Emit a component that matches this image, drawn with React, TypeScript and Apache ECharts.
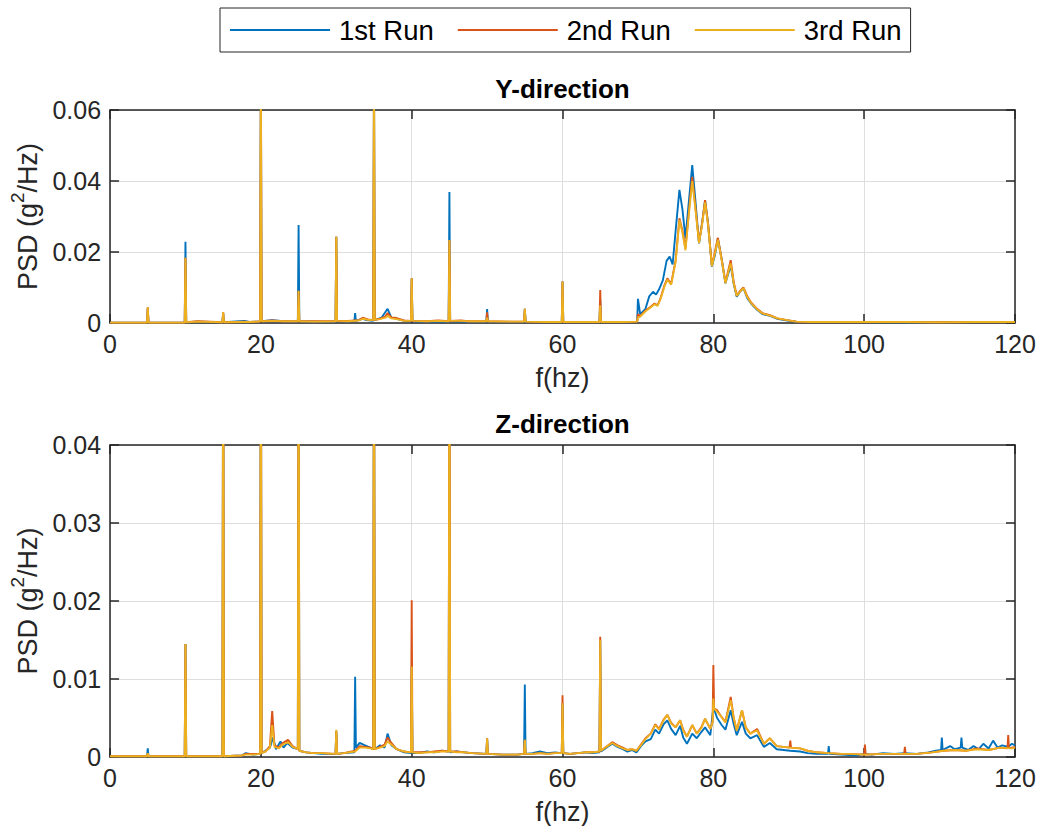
import React, { useEffect, useRef } from "react";
import * as echarts from "echarts";

const FONT = '"Liberation Sans", Arial, Helvetica, sans-serif';
const TXT = "#262626";
const COLORS = ["#0072BD", "#D95319", "#EDB120"];
const RUN_NAMES = ["1st Run", "2nd Run", "3rd Run"];

const xTicks = { min: 0, max: 120, interval: 20 };
const yTopTicks = { min: 0, max: 0.06, interval: 0.02 };
const yBotTicks = { min: 0, max: 0.04, interval: 0.01 };

// ---------- Y-direction ----------
const yRun1: number[][] = [
  [0, 0.0001], [4.9, 0.0001], [5.0, 0.0042], [5.1, 0.0001], [9.9, 0.0001], [10.0, 0.0229], [10.1, 0.0002],
  [11.6, 0.0004], [14.9, 0.0002], [15.0, 0.0028], [15.1, 0.0002], [17.8, 0.0006], [18.5, 0.0003], [19.9, 0.0004],
  [20.0, 0.07], [20.1, 0.0005], [21.5, 0.0008], [23, 0.0005], [24.9, 0.0005], [25.0, 0.0276], [25.1, 0.0005],
  [27, 0.0004], [29.9, 0.0004], [30.0, 0.0243], [30.1, 0.0006], [31.5, 0.0005], [32.4, 0.0006], [32.5, 0.0028],
  [32.6, 0.0006], [33.5, 0.0012], [34, 0.0008], [34.9, 0.0006], [35.0, 0.07], [35.1, 0.0008], [36, 0.0015],
  [36.8, 0.004], [37.3, 0.0015], [38, 0.0012], [39, 0.0006], [39.9, 0.0005], [40.0, 0.0126], [40.1, 0.0005],
  [42, 0.0004], [44.9, 0.0004], [45.0, 0.0369], [45.1, 0.0005], [47, 0.0004], [49.9, 0.0004], [50.0, 0.0039],
  [50.1, 0.0004], [53, 0.0003], [54.9, 0.0003], [55.0, 0.004], [55.1, 0.0003], [58, 0.0003], [59.9, 0.0003],
  [60.0, 0.0117], [60.1, 0.0003], [63, 0.0003], [64.9, 0.0003], [65.0, 0.0065], [65.1, 0.0003], [68, 0.0003],
  [69.9, 0.0004], [70.0, 0.0068], [70.3, 0.0025], [71, 0.004], [71.5, 0.0075], [72, 0.0088], [72.4, 0.008],
  [72.8, 0.0095], [73.3, 0.012], [73.8, 0.0175], [74.2, 0.0187], [74.6, 0.0165], [75.0, 0.026], [75.5, 0.0375],
  [75.9, 0.032], [76.3, 0.0239], [76.7, 0.033], [77.2, 0.0445], [77.6, 0.035], [78.1, 0.0224], [78.5, 0.028],
  [78.9, 0.0346], [79.3, 0.028], [79.8, 0.0159], [80.2, 0.019], [80.6, 0.0238], [81.1, 0.018], [81.6, 0.0112],
  [82.0, 0.014], [82.3, 0.0163], [82.7, 0.011], [83.1, 0.0074], [83.6, 0.009], [84.0, 0.0098], [84.5, 0.007],
  [85.0, 0.0055], [85.8, 0.0037], [86.5, 0.0025], [87.5, 0.002], [88.5, 0.0012], [89.8, 0.0007], [91, 0.0004],
  [93, 0.0003], [100, 0.0003], [105, 0.0002], [110, 0.0002], [115, 0.0003], [120, 0.0003],
];
const yRun2: number[][] = [
  [0, 0.0001], [4.9, 0.0001], [5.0, 0.0044], [5.1, 0.0001], [9.9, 0.0001], [10.0, 0.0184], [10.1, 0.0002],
  [11.6, 0.0005], [14.9, 0.0002], [15.0, 0.003], [15.1, 0.0002], [17.8, 0.0004], [18.5, 0.0003], [19.9, 0.0004],
  [20.0, 0.07], [20.1, 0.0005], [21.5, 0.0007], [23, 0.0005], [24.9, 0.0005], [25.0, 0.0091], [25.1, 0.0005],
  [27, 0.0005], [29.9, 0.0005], [30.0, 0.0243], [30.1, 0.0006], [31.5, 0.0006], [33.0, 0.0008], [33.5, 0.0015],
  [34.2, 0.001], [34.9, 0.0008], [35.0, 0.07], [35.1, 0.0009], [35.8, 0.0012], [36.5, 0.0018], [36.8, 0.0028],
  [37.3, 0.0016], [38, 0.0014], [39, 0.0007], [39.9, 0.0006], [40.0, 0.0126], [40.1, 0.0006], [42, 0.0005],
  [43.5, 0.0007], [44.9, 0.0005], [45.0, 0.0234], [45.1, 0.0006], [46.5, 0.0007], [47.5, 0.0005], [49.9, 0.0005],
  [50.0, 0.003], [50.1, 0.0005], [53, 0.0004], [54.9, 0.0004], [55.0, 0.004], [55.1, 0.0004], [58, 0.0003],
  [59.9, 0.0003], [60.0, 0.0117], [60.1, 0.0003], [63, 0.0003], [64.9, 0.0003], [65.0, 0.0093], [65.1, 0.0003],
  [68, 0.0003], [69.9, 0.0004], [70.0, 0.0025], [70.3, 0.002], [71, 0.0035], [71.7, 0.0046], [72.2, 0.0055],
  [72.6, 0.005], [73.0, 0.007], [73.5, 0.0105], [73.9, 0.0126], [74.4, 0.011], [75.0, 0.0177], [75.5, 0.0295],
  [75.9, 0.026], [76.3, 0.021], [76.7, 0.03], [77.2, 0.0412], [77.6, 0.033], [78.1, 0.0228], [78.5, 0.028],
  [78.9, 0.0346], [79.3, 0.028], [79.8, 0.0162], [80.2, 0.02], [80.6, 0.024], [81.1, 0.018], [81.6, 0.0115],
  [82.0, 0.015], [82.3, 0.0177], [82.7, 0.0115], [83.1, 0.0078], [83.6, 0.0092], [84.0, 0.01], [84.5, 0.0075],
  [85.0, 0.0058], [85.8, 0.004], [86.5, 0.0028], [87.5, 0.0022], [88.5, 0.0013], [89.8, 0.0008], [91, 0.0004],
  [93, 0.0003], [100, 0.0003], [105, 0.0003], [110, 0.0002], [115, 0.0003], [120, 0.0003],
];
const yRun3: number[][] = [
  [0, 0.0001], [4.9, 0.0001], [5.0, 0.0044], [5.1, 0.0001], [9.9, 0.0001], [10.0, 0.0184], [10.1, 0.0002],
  [11.6, 0.0004], [14.9, 0.0002], [15.0, 0.003], [15.1, 0.0002], [17.8, 0.0003], [18.5, 0.0003], [19.9, 0.0004],
  [20.0, 0.07], [20.1, 0.0005], [21.5, 0.0006], [23, 0.0005], [24.9, 0.0005], [25.0, 0.0091], [25.1, 0.0005],
  [27, 0.0004], [29.9, 0.0005], [30.0, 0.0243], [30.1, 0.0006], [31.5, 0.0005], [33.0, 0.0007], [33.5, 0.0012],
  [34.2, 0.0009], [34.9, 0.0008], [35.0, 0.07], [35.1, 0.0009], [35.8, 0.0011], [36.5, 0.0015], [36.8, 0.002],
  [37.3, 0.0013], [38, 0.0011], [39, 0.0006], [39.9, 0.0006], [40.0, 0.0126], [40.1, 0.0006], [42, 0.0005],
  [43.5, 0.0006], [44.9, 0.0005], [45.0, 0.0234], [45.1, 0.0006], [46.5, 0.0006], [47.5, 0.0005], [49.9, 0.0005],
  [50.0, 0.0015], [50.1, 0.0005], [53, 0.0004], [54.9, 0.0004], [55.0, 0.004], [55.1, 0.0004], [58, 0.0003],
  [59.9, 0.0003], [60.0, 0.0117], [60.1, 0.0003], [63, 0.0003], [64.9, 0.0003], [65.0, 0.005], [65.1, 0.0003],
  [68, 0.0003], [69.9, 0.0004], [70.0, 0.0015], [70.3, 0.0018], [71, 0.0033], [71.7, 0.0044], [72.2, 0.0053],
  [72.6, 0.0048], [73.0, 0.0068], [73.5, 0.0102], [73.9, 0.0122], [74.4, 0.0108], [75.0, 0.0172], [75.5, 0.029],
  [75.9, 0.0255], [76.3, 0.0205], [76.7, 0.0295], [77.2, 0.040], [77.6, 0.0325], [78.1, 0.0225], [78.5, 0.0275],
  [78.9, 0.034], [79.3, 0.0275], [79.8, 0.016], [80.2, 0.0195], [80.6, 0.0235], [81.1, 0.0178], [81.6, 0.0112],
  [82.0, 0.0145], [82.3, 0.0168], [82.7, 0.0112], [83.1, 0.0076], [83.6, 0.009], [84.0, 0.0098], [84.5, 0.0073],
  [85.0, 0.0056], [85.8, 0.0039], [86.5, 0.0027], [87.5, 0.0021], [88.5, 0.0013], [89.8, 0.0008], [91, 0.0004],
  [93, 0.0003], [100, 0.0003], [105, 0.0003], [110, 0.0002], [115, 0.0003], [120, 0.0003],
];

// ---------- Z-direction ----------
const zRun1: number[][] = [
  [0, 0.0001], [4.9, 0.0001], [5.0, 0.0011], [5.1, 0.0001], [9.9, 0.0001], [10.0, 0.0145], [10.1, 0.0001],
  [14.9, 0.0001], [15.0, 0.06], [15.1, 0.0001], [17.5, 0.0002], [18, 0.0005], [19, 0.0003], [19.9, 0.0004],
  [20.0, 0.06], [20.1, 0.0005], [20.6, 0.0008], [21.2, 0.0012], [21.6, 0.0025], [22.0, 0.001], [22.6, 0.002],
  [23.0, 0.0012], [23.5, 0.0018], [24.2, 0.0012], [24.9, 0.001], [25.0, 0.06], [25.1, 0.0008], [26, 0.0006],
  [27, 0.0005], [28, 0.0004], [29.9, 0.0004], [30.0, 0.0033], [30.1, 0.0004], [31, 0.0005], [32.4, 0.0006],
  [32.5, 0.0103], [32.6, 0.0012], [33.1, 0.0018], [33.8, 0.0015], [34.5, 0.0012], [34.9, 0.001], [35.0, 0.06],
  [35.1, 0.001], [35.8, 0.0015], [36.4, 0.0012], [36.8, 0.003], [37.3, 0.0015], [38, 0.001], [39, 0.0006],
  [39.9, 0.0005], [40.0, 0.0117], [40.1, 0.0005], [41, 0.0005], [42, 0.0007], [43, 0.0006], [44, 0.0008],
  [44.9, 0.0007], [45.0, 0.06], [45.1, 0.0006], [46, 0.0007], [47, 0.0006], [48, 0.0005], [49.9, 0.0004],
  [50.0, 0.0024], [50.1, 0.0004], [52, 0.0003], [54, 0.0003], [54.9, 0.0004], [55.0, 0.0093], [55.1, 0.0004],
  [56, 0.0005], [57, 0.0007], [58, 0.0005], [59, 0.0006], [59.9, 0.0005], [60.0, 0.0069], [60.1, 0.0005],
  [61, 0.0004], [62, 0.0005], [63, 0.0006], [64, 0.0005], [64.9, 0.0006], [65.0, 0.015], [65.1, 0.0007],
  [65.8, 0.0012], [66.6, 0.0017], [67.3, 0.0013], [68, 0.001], [68.6, 0.0007], [69.2, 0.0009], [69.8, 0.0006],
  [70.4, 0.0014], [71, 0.002], [71.7, 0.0023], [72.3, 0.0035], [72.8, 0.003], [73.4, 0.0042], [73.9, 0.0047],
  [74.4, 0.0036], [75.0, 0.0028], [75.6, 0.004], [76.0, 0.0025], [76.5, 0.0017], [77.2, 0.003], [77.8, 0.0024],
  [78.4, 0.0032], [78.9, 0.0038], [79.6, 0.0028], [80.0, 0.0064], [80.5, 0.005], [81.1, 0.0041], [81.6, 0.0035],
  [82.3, 0.006], [82.7, 0.0042], [83.1, 0.0028], [83.8, 0.0045], [84.3, 0.003], [84.9, 0.0024], [85.8, 0.0028],
  [86.7, 0.0013], [87.5, 0.0018], [88.4, 0.001], [89.3, 0.0009], [90.2, 0.0008], [91.5, 0.0007], [92.5, 0.0005],
  [93.7, 0.0004], [95.2, 0.0004], [95.3, 0.0014], [95.4, 0.0004], [97, 0.0003], [99, 0.0002], [100.1, 0.0004],
  [101, 0.0003], [102.5, 0.0005], [104, 0.0004], [105.4, 0.0005], [107, 0.0004], [108.5, 0.0006], [109.5, 0.0008],
  [110.2, 0.0009], [110.3, 0.0025], [110.4, 0.0009], [111.4, 0.0014], [112, 0.001], [112.8, 0.0012], [112.9, 0.0025],
  [113.0, 0.0012], [113.8, 0.0009], [114.5, 0.0014], [115.2, 0.001], [115.8, 0.0017], [116.5, 0.0011],
  [117.1, 0.0021], [117.7, 0.0012], [118.3, 0.0015], [119.1, 0.0013], [119.6, 0.0017], [120, 0.0015],
];
const zRun2: number[][] = [
  [0, 0.0001], [4.9, 0.0001], [5.0, 0.0005], [5.1, 0.0001], [9.9, 0.0001], [10.0, 0.0145], [10.1, 0.0001],
  [14.9, 0.0001], [15.0, 0.06], [15.1, 0.0001], [17.5, 0.0002], [18, 0.0004], [19, 0.0004], [19.9, 0.0004],
  [20.0, 0.06], [20.1, 0.0006], [20.6, 0.0007], [21.2, 0.0014], [21.5, 0.0059], [21.8, 0.0015], [22.4, 0.0012],
  [22.9, 0.0018], [23.6, 0.0022], [24.2, 0.0014], [24.9, 0.001], [25.0, 0.06], [25.1, 0.0008], [26, 0.0006],
  [27, 0.0005], [28, 0.0005], [29.9, 0.0004], [30.0, 0.0033], [30.1, 0.0004], [31, 0.0005], [32.5, 0.0008],
  [33.1, 0.0014], [33.8, 0.0013], [34.5, 0.0012], [34.9, 0.001], [35.0, 0.06], [35.1, 0.001], [35.8, 0.0013],
  [36.4, 0.0016], [36.8, 0.0025], [37.3, 0.0018], [38, 0.001], [39, 0.0007], [39.9, 0.0006], [40.0, 0.0201],
  [40.1, 0.0006], [41, 0.0006], [42, 0.0006], [43, 0.0007], [44, 0.0008], [44.9, 0.0007], [45.0, 0.06],
  [45.1, 0.0007], [46, 0.0007], [47, 0.0006], [48, 0.0005], [49.9, 0.0004], [50.0, 0.0024], [50.1, 0.0004],
  [52, 0.0003], [54, 0.0003], [54.9, 0.0004], [55.0, 0.0022], [55.1, 0.0004], [56, 0.0004], [57, 0.0005],
  [58, 0.0004], [59, 0.0005], [59.9, 0.0005], [60.0, 0.0079], [60.1, 0.0005], [61, 0.0004], [62, 0.0005],
  [63, 0.0006], [64, 0.0006], [64.9, 0.0007], [65.0, 0.0154], [65.1, 0.0008], [65.8, 0.0013], [66.6, 0.0019],
  [67.3, 0.0015], [68, 0.0012], [68.6, 0.0009], [69.2, 0.001], [69.8, 0.0008], [70.4, 0.0016], [71, 0.0024],
  [71.7, 0.003], [72.3, 0.0042], [72.8, 0.0036], [73.4, 0.0048], [73.9, 0.0054], [74.4, 0.0044], [75.0, 0.0038],
  [75.6, 0.0047], [76.0, 0.0035], [76.5, 0.0026], [77.2, 0.0041], [77.8, 0.003], [78.4, 0.0038], [78.9, 0.0049],
  [79.6, 0.0036], [79.9, 0.0045], [80.0, 0.0118], [80.1, 0.0062], [80.5, 0.006], [81.1, 0.0051], [81.6, 0.0045],
  [82.3, 0.0077], [82.7, 0.005], [83.1, 0.0034], [83.8, 0.006], [84.3, 0.0038], [84.9, 0.003], [85.8, 0.0036],
  [86.7, 0.0017], [87.5, 0.0024], [88.4, 0.0014], [89.3, 0.0013], [90.1, 0.0012], [90.2, 0.0021], [90.3, 0.0012],
  [91.5, 0.0011], [92.5, 0.0008], [93.7, 0.0006], [95.3, 0.0005], [97, 0.0004], [98.1, 0.0004], [100.0, 0.0003],
  [100.1, 0.0016], [100.2, 0.0003], [102.5, 0.0004], [105.3, 0.0004], [105.4, 0.0013], [105.5, 0.0004],
  [107, 0.0004], [109, 0.0006], [110.5, 0.0008], [112, 0.0009], [113.5, 0.0008], [115, 0.0011], [116.5, 0.0009],
  [118, 0.0012], [119.0, 0.0011], [119.1, 0.0028], [119.2, 0.0011], [119.6, 0.0012], [120, 0.0013],
];
const zRun3: number[][] = [
  [0, 0.0001], [4.9, 0.0001], [5.0, 0.0005], [5.1, 0.0001], [9.9, 0.0001], [10.0, 0.0145], [10.1, 0.0001],
  [14.9, 0.0001], [15.0, 0.06], [15.1, 0.0001], [17.5, 0.0002], [18, 0.0003], [19, 0.0003], [19.9, 0.0004],
  [20.0, 0.06], [20.1, 0.0005], [20.6, 0.0007], [21.2, 0.0012], [21.5, 0.0041], [21.8, 0.0013], [22.4, 0.0011],
  [22.9, 0.0016], [23.6, 0.0019], [24.2, 0.0013], [24.9, 0.001], [25.0, 0.06], [25.1, 0.0008], [26, 0.0006],
  [27, 0.0005], [28, 0.0005], [29.9, 0.0004], [30.0, 0.0035], [30.1, 0.0004], [31, 0.0005], [32.5, 0.0007],
  [33.1, 0.0012], [33.8, 0.0012], [34.5, 0.0011], [34.9, 0.001], [35.0, 0.06], [35.1, 0.001], [35.8, 0.0012],
  [36.4, 0.0014], [36.8, 0.002], [37.3, 0.0016], [38, 0.001], [39, 0.0007], [39.9, 0.0006], [40.0, 0.0116],
  [40.1, 0.0006], [41, 0.0005], [42, 0.0006], [43, 0.0006], [44, 0.0007], [44.9, 0.0007], [45.0, 0.06],
  [45.1, 0.0007], [46, 0.0006], [47, 0.0006], [48, 0.0005], [49.9, 0.0004], [50.0, 0.0024], [50.1, 0.0004],
  [52, 0.0003], [54, 0.0003], [54.9, 0.0004], [55.0, 0.0022], [55.1, 0.0004], [56, 0.0004], [57, 0.0005],
  [58, 0.0004], [59, 0.0005], [59.9, 0.0005], [60.0, 0.0069], [60.1, 0.0005], [61, 0.0004], [62, 0.0005],
  [63, 0.0006], [64, 0.0006], [64.9, 0.0007], [65.0, 0.015], [65.1, 0.0008], [65.8, 0.0013], [66.6, 0.0018],
  [67.3, 0.0014], [68, 0.0011], [68.6, 0.0009], [69.2, 0.001], [69.8, 0.0008], [70.4, 0.0015], [71, 0.0023],
  [71.7, 0.003], [72.3, 0.0041], [72.8, 0.0035], [73.4, 0.0047], [73.9, 0.0054], [74.4, 0.0043], [75.0, 0.0038],
  [75.6, 0.0047], [76.0, 0.0034], [76.5, 0.0026], [77.2, 0.0041], [77.8, 0.003], [78.4, 0.0037], [78.9, 0.0049],
  [79.6, 0.0036], [79.9, 0.0045], [80.0, 0.0075], [80.1, 0.0062], [80.5, 0.0058], [81.1, 0.0051], [81.6, 0.0044],
  [82.3, 0.0073], [82.7, 0.005], [83.1, 0.0034], [83.8, 0.006], [84.3, 0.0038], [84.9, 0.003], [85.8, 0.0034],
  [86.7, 0.0017], [87.5, 0.0024], [88.4, 0.0014], [89.3, 0.0013], [90.2, 0.0012], [91.5, 0.0011], [92.5, 0.0008],
  [93.7, 0.0006], [95.3, 0.0005], [97, 0.0004], [98.1, 0.0004], [100.0, 0.0003], [102.5, 0.0004], [105, 0.0004],
  [107, 0.0004], [109, 0.0006], [110.5, 0.0008], [112, 0.0009], [113.5, 0.0008], [115, 0.001], [116.5, 0.0009],
  [118, 0.0012], [119.6, 0.0011], [120, 0.0012],
];

const topRuns = [yRun1, yRun2, yRun3];
const botRuns = [zRun1, zRun2, zRun3];

const GRIDS = [
  { left: 109, top: 110, width: 906, height: 213 },
  { left: 109, top: 445, width: 906, height: 312 },
];

function yLabel(v: number) {
  return v === 0 ? "0" : v.toFixed(2);
}

function buildAxes(gridIndex: number, yt: { min: number; max: number; interval: number }, title: string) {
  const lineStyle = { color: TXT, width: 1.5 };
  const tick = { show: true, inside: true, length: 9, lineStyle };
  const xBottom = {
    type: "value", gridIndex, position: "bottom", ...xTicks,
    axisLine: { show: true, onZero: false, lineStyle }, axisTick: tick,
    axisLabel: { show: true, margin: 8, color: TXT, fontSize: 25, fontFamily: FONT },
    splitLine: { show: true, lineStyle: { color: "#dedede", width: 1 } },
    name: "f(hz)", nameLocation: "middle", nameGap: 41,
    nameTextStyle: { color: TXT, fontSize: 27, fontFamily: FONT },
  };
  const xTop = {
    type: "value", gridIndex, position: "top", ...xTicks,
    axisLine: { show: true, onZero: false, lineStyle }, axisTick: tick,
    axisLabel: { show: false }, splitLine: { show: false },
    name: title, nameLocation: "middle", nameGap: 8,
    nameTextStyle: { color: "#000", fontSize: 26, fontWeight: "bold", fontFamily: FONT },
  };
  const yLeft = {
    type: "value", gridIndex, position: "left", ...yt,
    axisLine: { show: true, onZero: false, lineStyle }, axisTick: tick,
    axisLabel: { show: true, margin: 9, color: TXT, fontSize: 25, fontFamily: FONT, formatter: yLabel },
    splitLine: { show: true, lineStyle: { color: "#dedede", width: 1 } },
    name: "{n|PSD (g}{s|2}{n|/Hz)}", nameLocation: "middle", nameGap: 62,
    nameTextStyle: {
      color: TXT, fontFamily: FONT,
      rich: {
        n: { fontSize: 27, lineHeight: 40, color: TXT, fontFamily: FONT },
        s: { fontSize: 19, verticalAlign: "top", color: TXT, fontFamily: FONT },
      },
    },
  };
  const yRight = {
    type: "value", gridIndex, position: "right", ...yt,
    axisLine: { show: true, onZero: false, lineStyle }, axisTick: tick,
    axisLabel: { show: false }, splitLine: { show: false },
  };
  return { x: [xBottom, xTop], y: [yLeft, yRight] };
}

export default function App() {
  const ref = useRef<HTMLDivElement>(null);
  useEffect(() => {
    if (!ref.current) return;
    const chart = echarts.init(ref.current, undefined, { renderer: "svg" });
    const a0 = buildAxes(0, yTopTicks, "Y-direction");
    const a1 = buildAxes(1, yBotTicks, "Z-direction");
    const series: any[] = [];
    topRuns.forEach((d, i) =>
      series.push({
        name: RUN_NAMES[i], type: "line", xAxisIndex: 0, yAxisIndex: 0, data: d,
        symbol: "none", clip: true, lineStyle: { color: COLORS[i], width: 1.9 }, itemStyle: { color: COLORS[i] },
      })
    );
    botRuns.forEach((d, i) =>
      series.push({
        name: RUN_NAMES[i], type: "line", xAxisIndex: 2, yAxisIndex: 2, data: d,
        symbol: "none", clip: true, lineStyle: { color: COLORS[i], width: 1.9 }, itemStyle: { color: COLORS[i] },
      })
    );
    chart.setOption({
      animation: false,
      backgroundColor: "#ffffff",
      grid: GRIDS.map((g) => ({ ...g, containLabel: false })),
      xAxis: [...a0.x, ...a1.x],
      yAxis: [...a0.y, ...a1.y],
      legend: {
        show: true, top: 8, left: 220, orient: "horizontal",
        data: RUN_NAMES, icon: "rect", itemWidth: 100, itemHeight: 2, itemGap: 24,
        textStyle: { color: "#000", fontSize: 27.5, fontFamily: FONT, padding: [0, 0, 0, 4] },
        borderColor: TXT, borderWidth: 1, padding: [8, 9, 8, 10], backgroundColor: "#fff",
      },
      series,
    });
    return () => chart.dispose();
  }, []);
  return (
    <div
      ref={ref}
      style={{ position: "fixed", left: 0, top: 0, width: 1041, height: 826, background: "#fff" }}
    />
  );
}
